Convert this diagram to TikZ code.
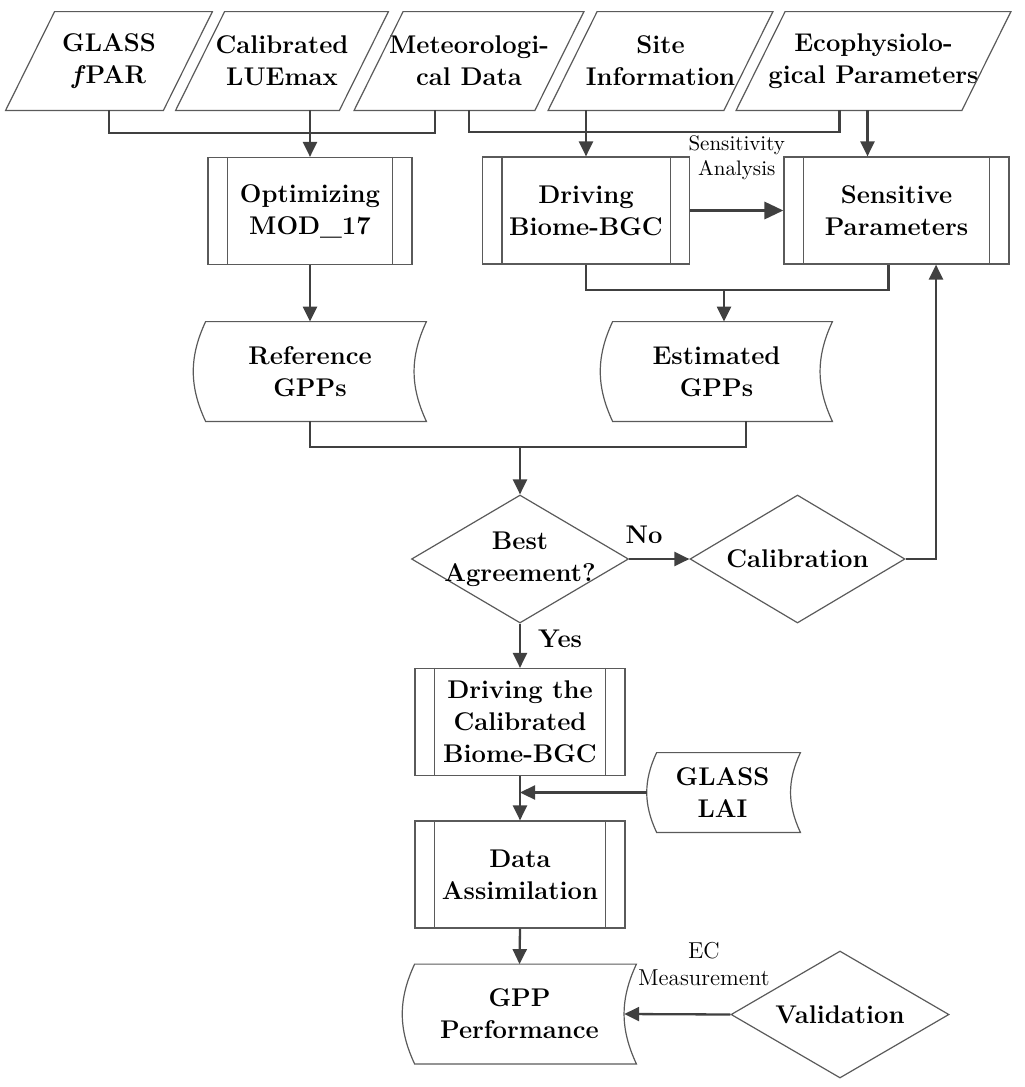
\documentclass[tikz,border=0pt]{standalone}
\usetikzlibrary{arrows.meta,shapes.geometric}
\definecolor{linegray}{HTML}{404040}
\definecolor{boxgray}{HTML}{5A5A5A}
\tikzset{
    txt/.style={font=\bfseries\fontsize{12.8}{16}\selectfont, align=center, inner sep=0pt},
    databox/.style={txt, minimum height=49pt},
    procbox/.style={txt, draw=boxgray, line width=0.6pt, minimum height=53.5pt},
    storebox/.style={txt, minimum height=49.5pt},
    decision/.style={diamond, draw=boxgray, line width=0.6pt, inner sep=0pt},
    outline/.style={draw=boxgray, line width=0.6pt},
    link/.style={draw=linegray, line width=1.15pt},
    arrow/.style={link, -{Triangle[length=7.5pt,width=7pt]}},
    bigarrow/.style={link, line width=1.65pt, -{Triangle[length=9.5pt,width=8.5pt]}},
    note/.style={font=\fontsize{10.5}{12.5}\selectfont, align=center, inner sep=0pt}
}
\begin{document}
\begin{tikzpicture}[x=0.5pt,y=-0.5pt]
    \useasboundingbox (0,0) rectangle (1024,1087);
    \node[databox, minimum width=78.5pt] (fpar) at (109,61) {GLASS\\\textit{f}PAR};
    \node[databox, minimum width=81.5pt] (lue) at (282,61) {Calibrated\\LUEmax};
    \node[databox, minimum width=90pt] (met) at (469,61) {Meteorologi-\\cal Data};
    \node[databox, minimum width=87.5pt] (site) at (660.5,61) {Site\\Information};
    \node[databox, minimum width=112.5pt] (eco) at (873.5,61) {Ecophysiolo-\\gical Parameters};
    \foreach \n in {fpar,lue,met,site,eco} {
            \draw[outline] ([xshift=12.25pt]\n.north west) -- ([xshift=12.25pt]\n.north east)
                -- ([xshift=-12.25pt]\n.south east) -- ([xshift=-12.25pt]\n.south west) -- cycle;
        }
    \node[procbox, minimum width=102pt] (opt) at (310,211) {Optimizing\\MOD\_17};
    \node[procbox, minimum width=103.5pt] (drive) at (586,210.5) {Driving\\Biome-BGC};
    \node[procbox, minimum width=112.5pt] (sens) at (896.5,210.5) {Sensitive\\Parameters};
    \node[procbox, minimum width=105pt] (drivecal) at (520,722) {Driving the\\Calibrated\\Biome-BGC};
    \node[procbox, minimum width=105pt] (assim) at (520,874.5) {Data\\Assimilation};
    \foreach \n in {opt,drive,sens,drivecal,assim} {
            \draw[outline] ([xshift=10pt]\n.north west) -- ([xshift=10pt]\n.south west)
                ([xshift=-10pt]\n.north east) -- ([xshift=-10pt]\n.south east);
        }
    \node[storebox, minimum width=110pt] (refgpp) at (310,371.5) {Reference\\GPPs};
    \node[storebox, minimum width=109.5pt] (estgpp) at (716.5,371.5) {Estimated\\GPPs};
    \node[storebox, minimum width=71.5pt, minimum height=39.5pt] (lai) at (722.5,792.5) {GLASS\\LAI};
    \node[storebox, minimum width=110.5pt] (gppperf) at (519.5,1014) {GPP\\Performance};
    \foreach \n in {refgpp,estgpp,lai,gppperf} {
            \draw[outline] ([xshift=3pt]\n.north west) to[bend right=25] ([xshift=3pt]\n.south west)
                -- ([xshift=3pt]\n.south east) to[bend left=25] ([xshift=3pt]\n.north east) -- cycle;
        }
    \node[decision, minimum width=108.5pt, minimum height=64pt,
        label={[txt]center:Best\\Agreement?}] (best) at (520,559) {};
    \node[decision, minimum width=107.5pt, minimum height=64pt,
        label={[txt]center:Calibration}] (calib) at (797.5,559) {};
    \node[decision, minimum width=109pt, minimum height=63.5pt,
        label={[txt]center:Validation}] (valid) at (840,1014.5) {};
    \coordinate (inA) at (310,133);
    \coordinate (inB) at (586,132);
    \coordinate (ecoout) at ([xshift=-3pt]eco.south);
    \coordinate (outA) at (724,290);
    \coordinate (outB) at (520,447);
    \draw[link] (fpar.south) |- (inA) -| ([xshift=-17pt]met.south);
    \draw[arrow] (opt.north |- lue.south) -- (opt.north);
    \draw[link] (met.south) |- (inB) -| ([xshift=-17pt]eco.south);
    \draw[arrow] (drive.north |- site.south) -- (drive.north);
    \draw[arrow] (ecoout) -- (ecoout |- sens.north);
    \draw[bigarrow] (drive.east) -- (sens.west) node[midway, above=14.5pt, note]{Sensitivity\\Analysis};
    \draw[link] (drive.south) |- (outA) -| ([xshift=-4pt]sens.south);
    \draw[arrow] (outA) -- (outA |- estgpp.north);
    \draw[arrow] (opt.south) -- (refgpp.north);
    \draw[link] (refgpp.south) |- (outB) -| ([xshift=14.75pt]estgpp.south);
    \draw[arrow] (outB) -- (best.north);
    \draw[arrow] (best.east) -- (calib.west) node[pos=0.25, above=7pt, txt]{No};
    \draw[arrow] (calib.east) -| ([xshift=19.75pt]sens.south);
    \draw[arrow] (best.south) -- (drivecal.north) node[pos=0.35, right=8.5pt, txt]{Yes};
    \draw[arrow] (drivecal.south) -- (assim.north);
    \draw[arrow] ([xshift=-1.9pt]lai.west) -- (lai.west -| drivecal.south);
    \draw[arrow] (assim.south) -- (gppperf.north);
    \draw[arrow] (valid.west) -- ([xshift=-3.1pt]gppperf.east)
        node[pos=0.25, above=13.75pt, note, font=\fontsize{11.5}{13.5}\selectfont]{EC\\Measurement};
\end{tikzpicture}
\end{document}
